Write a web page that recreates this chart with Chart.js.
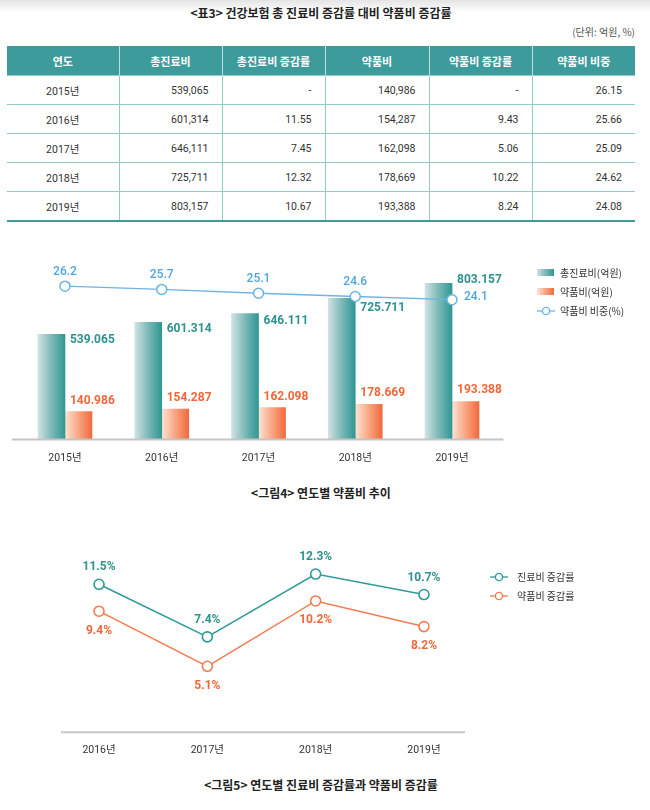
<!DOCTYPE html>
<html><head><meta charset="utf-8">
<script src="https://cdn.jsdelivr.net/npm/chart.js@4.4.1/dist/chart.umd.min.js"></script>
<style>
html,body{margin:0;padding:0;background:#fff;}
body{width:650px;height:810px;position:relative;overflow:hidden;font-family:Roboto,"Noto Sans CJK KR",sans-serif;color:#333;}
.topband{position:absolute;left:0;top:0;width:650px;height:12px;background:linear-gradient(#e4e4e4,#ffffff);}
.cap{position:absolute;left:0;width:642px;text-align:center;font-family:"Noto Sans CJK KR",sans-serif;font-weight:700;font-size:12px;line-height:16px;color:#222;white-space:nowrap;}
.unit{position:absolute;right:15px;top:25px;font-family:"Noto Sans CJK KR",sans-serif;font-size:10px;line-height:14px;color:#555;}
table{position:absolute;left:7px;top:46px;width:628px;border-collapse:collapse;table-layout:fixed;}
th{background:#3d9b9b;color:#fff;height:29px;font-family:"Noto Sans CJK KR",sans-serif;font-weight:700;font-size:11px;border-left:1px solid #bfe0e0;padding:0;text-align:center;}
th:first-child{border-left:none;}
td{height:28px;border-top:1px solid #8fcdcd;border-left:1px solid #8fcdcd;font-family:Roboto,"Noto Sans CJK KR",sans-serif;font-size:10.5px;color:#333;padding:0 13px 0 0;text-align:right;}
td:first-child{border-left:none;text-align:center;padding:0;}
tr:last-child td{border-bottom:2px solid #3d9b9b;}
.cv{position:absolute;left:0;}
.leg{position:absolute;font-family:"Noto Sans CJK KR",sans-serif;font-size:10px;line-height:12px;color:#333;white-space:nowrap;}
.leg .sw{position:absolute;left:0;}
.leg span.t{position:absolute;top:0;}
</style>
</head>
<body>
<div class="topband"></div>
<div class="cap" id="title1" style="top:5px;"></div>
<div class="unit" id="unit"></div>
<table id="tbl"></table>

<div class="cv" style="top:240px;"><canvas id="c1" width="650" height="240"></canvas></div>
<div class="cap" id="cap1" style="top:485px;"></div>

<div class="cv" style="top:520px;"><canvas id="c2" width="650" height="240"></canvas></div>
<div class="cap" id="cap2" style="top:777px;"></div>

<div id="legend1"></div>
<div id="legend2"></div>

<script>
// ---------- data ----------
const tableTitle = '<표3> 건강보험 총 진료비 증감률 대비 약품비 증감률';
const unitText = '(단위: 억원, %)';
const tableHeaders = ['연도', '총진료비', '총진료비 증감률', '약품비', '약품비 증감률', '약품비 비중'];
const years = ['2015년', '2016년', '2017년', '2018년', '2019년'];
const totalCost = [539065, 601314, 646111, 725711, 803157];
const totalGrowth = [null, 11.55, 7.45, 12.32, 10.67];
const drugCost = [140986, 154287, 162098, 178669, 193388];
const drugGrowth = [null, 9.43, 5.06, 10.22, 8.24];
const drugShare = [26.15, 25.66, 25.09, 24.62, 24.08];

const fig4Caption = '<그림4> 연도별 약품비 추이';
const fig4Legend = ['총진료비(억원)', '약품비(억원)', '약품비 비중(%)'];
const shareChart = [26.2, 25.7, 25.1, 24.6, 24.1];

const fig5Caption = '<그림5> 연도별 진료비 증감률과 약품비 증감률';
const fig5Legend = ['진료비 증감률', '약품비 증감률'];
const rateYears = ['2016년', '2017년', '2018년', '2019년'];
const totalRate = [11.5, 7.4, 12.3, 10.7];
const drugRate = [9.4, 5.1, 10.2, 8.2];

// ---------- styles ----------
const TEAL = '#2f9793', TEAL_TXT = '#2e928e';
const ORANGE = '#f06a3c', ORANGE_TXT = '#f0673a';
const BLUE = '#6cb4e6', BLUE_TXT = '#4ea6e0';
const LINE_TEAL = '#2f9a96', LINE_ORANGE = '#f47b50';
const NUMFONT = 'Roboto, "Noto Sans CJK KR", sans-serif';

// ---------- text ----------
document.getElementById('title1').textContent = tableTitle;
document.getElementById('unit').textContent = unitText;
document.getElementById('cap1').textContent = fig4Caption;
document.getElementById('cap2').textContent = fig5Caption;

const fmtComma = n => n.toLocaleString('en-US');
const fmtDot = n => n.toLocaleString('en-US').replace(/,/g, '.');

// ---------- table ----------
(function () {
  const tbl = document.getElementById('tbl');
  const widths = [112, 103, 103, 104, 103, 103];
  const cg = document.createElement('colgroup');
  widths.forEach(w => { const c = document.createElement('col'); c.style.width = w + 'px'; cg.appendChild(c); });
  tbl.appendChild(cg);
  const hr = document.createElement('tr');
  tableHeaders.forEach(h => { const th = document.createElement('th'); th.textContent = h; hr.appendChild(th); });
  tbl.appendChild(hr);
  years.forEach((y, i) => {
    const tr = document.createElement('tr');
    const cells = [
      y,
      fmtComma(totalCost[i]),
      totalGrowth[i] == null ? '-' : totalGrowth[i].toFixed(2),
      fmtComma(drugCost[i]),
      drugGrowth[i] == null ? '-' : drugGrowth[i].toFixed(2),
      drugShare[i].toFixed(2)
    ];
    cells.forEach(c => { const td = document.createElement('td'); td.textContent = c; tr.appendChild(td); });
    tbl.appendChild(tr);
  });
})();

// ---------- legends (HTML) ----------
function lineMarker(color) {
  return '<svg width="18" height="10" style="position:absolute;left:0;top:1px"><line x1="0" y1="5" x2="18" y2="5" stroke="' + color + '" stroke-width="1.3"/><circle cx="9" cy="5" r="3.6" fill="#fff" stroke="' + color + '" stroke-width="1.4"/></svg>';
}
(function () {
  const l1 = document.getElementById('legend1');
  const rows = [
    { y: 272.7, sw: '<div class="sw" style="top:2.5px;width:17px;height:7px;background:linear-gradient(90deg,#d0e2e2,#7cb9b7 50%,#2f9793)"></div>' },
    { y: 291.7, sw: '<div class="sw" style="top:2.5px;width:17px;height:7px;background:linear-gradient(90deg,#fde3d5,#f9a582 50%,#f06a3c)"></div>' },
    { y: 310.7, sw: lineMarker(BLUE) }
  ];
  rows.forEach((r, i) => {
    const d = document.createElement('div');
    d.className = 'leg';
    d.style.left = '537px'; d.style.top = (r.y - 6) + 'px'; d.style.width = '110px'; d.style.height = '12px';
    d.innerHTML = r.sw + '<span class="t" style="left:23px">' + fig4Legend[i] + '</span>';
    l1.appendChild(d);
  });
  const l2 = document.getElementById('legend2');
  const rows2 = [{ y: 576.7, c: LINE_TEAL }, { y: 595.7, c: LINE_ORANGE }];
  rows2.forEach((r, i) => {
    const d = document.createElement('div');
    d.className = 'leg';
    d.style.left = '490px'; d.style.top = (r.y - 6) + 'px'; d.style.width = '110px'; d.style.height = '12px';
    d.innerHTML = lineMarker(r.c) + '<span class="t" style="left:27px">' + fig5Legend[i] + '</span>';
    l2.appendChild(d);
  });
})();

// ---------- helpers ----------
const BAR_W = 27;
function barGradient(c, stops, side) {
  const chart = c.chart;
  if (!chart.chartArea || c.type !== 'data') return stops[stops.length - 1][1];
  const cx = chart.scales.x.getPixelForValue(c.dataIndex);
  const x0 = side < 0 ? cx - BAR_W : cx, x1 = side < 0 ? cx : cx + BAR_W;
  const g = chart.ctx.createLinearGradient(x0, 0, x1, 0);
  stops.forEach(s => g.addColorStop(s[0], s[1]));
  return g;
}
const tealStops = [[0, '#d0e2e2'], [0.5, '#7cb9b7'], [1, '#2f9793']];
const orangeStops = [[0, '#fde3d5'], [0.5, '#f9a582'], [1, '#f06a3c']];

function baselinePlugin(extL, extR, color) {
  return {
    id: 'baseline',
    afterDatasetsDraw(chart) {
      const { ctx, chartArea } = chart;
      ctx.save();
      ctx.strokeStyle = color; ctx.lineWidth = 2;
      ctx.beginPath();
      ctx.moveTo(chartArea.left - extL, chartArea.bottom + 0.5);
      ctx.lineTo(chartArea.right + extR, chartArea.bottom + 0.5);
      ctx.stroke();
      ctx.restore();
    }
  };
}

// ---------- chart 1 ----------
const tealLabelDy = [6, 7, 7, 10, -3];
const labels1 = {
  id: 'labels1',
  afterDatasetsDraw(chart) {
    const { ctx } = chart;
    const x = chart.scales.x, y = chart.scales.y, y2 = chart.scales.y2;
    ctx.save();
    ctx.textBaseline = 'middle';
    years.forEach((yr, i) => {
      const cx = x.getPixelForValue(i);
      ctx.font = '700 12px ' + NUMFONT;
      ctx.textAlign = 'left';
      ctx.fillStyle = TEAL_TXT;
      ctx.fillText(fmtDot(totalCost[i]), cx + 5, y.getPixelForValue(totalCost[i]) + tealLabelDy[i]);
      ctx.fillStyle = ORANGE_TXT;
      ctx.fillText(fmtDot(drugCost[i]), cx + 5, y.getPixelForValue(drugCost[i]) - 11);
      ctx.font = '500 12px ' + NUMFONT;
      ctx.fillStyle = BLUE_TXT;
      const py = y2.getPixelForValue(shareChart[i]);
      const s = shareChart[i].toFixed(1);
      if (i === years.length - 1) {
        ctx.textAlign = 'left';
        ctx.fillText(s, cx + 12, py - 2.5);
      } else {
        ctx.textAlign = 'center';
        ctx.fillText(s, cx, py - 14);
      }
    });
    ctx.restore();
  }
};

new Chart(document.getElementById('c1'), {
  data: {
    labels: years,
    datasets: [
      { type: 'bar', label: fig4Legend[0], data: totalCost, yAxisID: 'y', order: 1,
        backgroundColor: c => barGradient(c, tealStops, -1), borderWidth: 0 },
      { type: 'bar', label: fig4Legend[1], data: drugCost, yAxisID: 'y', order: 1,
        backgroundColor: c => barGradient(c, orangeStops, 1), borderWidth: 0 },
      { type: 'line', label: fig4Legend[2], data: shareChart, yAxisID: 'y2', order: 0,
        borderColor: BLUE, borderWidth: 1.3, pointRadius: 5, pointBorderWidth: 1.5,
        pointBackgroundColor: '#fff', pointBorderColor: BLUE, tension: 0 }
    ]
  },
  options: {
    responsive: false, animation: false,
    barThickness: BAR_W,
    layout: { padding: { left: 16.6, right: 149.6, top: 0, bottom: 0 } },
    plugins: { legend: { display: false }, tooltip: { enabled: false } },
    scales: {
      x: {
        type: 'category', offset: true,
        grid: { display: false, drawTicks: false }, border: { display: false },
        ticks: { padding: 13, color: '#333', font: { size: 10.5, family: NUMFONT } },
        afterFit: s => { s.height = 41; }
      },
      y: { display: false, min: 0, max: 992500 },
      y2: { display: false, min: 2.51, max: 32.35 }
    }
  },
  plugins: [baselinePlugin(4.6, 3, '#c4c4c4'), labels1]
});

// ---------- chart 2 ----------
const labels2 = {
  id: 'labels2',
  afterDatasetsDraw(chart) {
    const { ctx } = chart;
    const x = chart.scales.x, y = chart.scales.y;
    ctx.save();
    ctx.textBaseline = 'middle'; ctx.textAlign = 'center';
    ctx.font = '700 12px ' + NUMFONT;
    rateYears.forEach((yr, i) => {
      const cx = x.getPixelForValue(i);
      ctx.fillStyle = TEAL_TXT;
      ctx.fillText(totalRate[i].toFixed(1) + '%', cx, y.getPixelForValue(totalRate[i]) - 17);
      ctx.fillStyle = ORANGE_TXT;
      ctx.fillText(drugRate[i].toFixed(1) + '%', cx, y.getPixelForValue(drugRate[i]) + 19.5);
    });
    ctx.restore();
  }
};

new Chart(document.getElementById('c2'), {
  type: 'line',
  data: {
    datasets: [
      { label: fig5Legend[0], data: totalRate.map((v, i) => ({ x: i, y: v })),
        borderColor: LINE_TEAL, borderWidth: 1.5, pointRadius: 5, pointBorderWidth: 1.6,
        pointBackgroundColor: '#fff', pointBorderColor: LINE_TEAL, tension: 0 },
      { label: fig5Legend[1], data: drugRate.map((v, i) => ({ x: i, y: v })),
        borderColor: LINE_ORANGE, borderWidth: 1.5, pointRadius: 5, pointBorderWidth: 1.6,
        pointBackgroundColor: '#fff', pointBorderColor: LINE_ORANGE, tension: 0 }
    ]
  },
  options: {
    responsive: false, animation: false,
    layout: { padding: { left: 61, right: 185, top: 0, bottom: 0 } },
    plugins: { legend: { display: false }, tooltip: { enabled: false } },
    scales: {
      x: {
        type: 'linear', min: -0.351, max: 3.379,
        afterBuildTicks: s => { s.ticks = rateYears.map((_, i) => ({ value: i })); },
        grid: { display: false, drawTicks: false }, border: { display: false },
        ticks: { padding: 12, autoSkip: false, maxRotation: 0, color: '#333',
                 font: { size: 10.5, family: NUMFONT },
                 callback: v => rateYears[v] },
        afterFit: s => { s.height = 28.3; }
      },
      y: { display: false, min: 0, max: 16 }
    }
  },
  plugins: [baselinePlugin(0, 0, '#c8c8c8'), labels2]
});
</script>
</body></html>
